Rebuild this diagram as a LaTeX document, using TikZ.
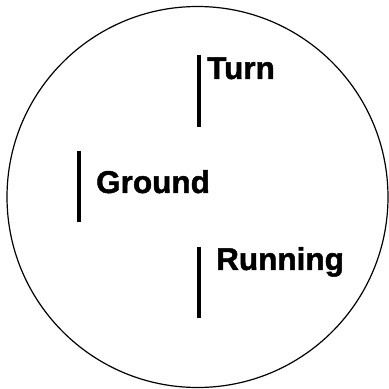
\documentclass[tikz,border=0pt]{standalone}
\usepackage{fontspec}
\setmainfont{Liberation Sans}
\newfontfamily\heavyfont[FakeBold=1.5]{Liberation Sans Bold}
\begin{document}
\begin{tikzpicture}[x=1pt,y=1pt,
  lbl/.style={anchor=base west,inner sep=0pt,font=\heavyfont\fontsize{31.5}{31.5}\selectfont},
  bar/.style={line width=4.5pt},
  ring/.style={line width=1.2pt}]
\useasboundingbox (0,0) rectangle (389,389);
\node[ring,draw,circle,minimum size=381pt,inner sep=0pt] (c) at (197.5,192) {};
\coordinate (t1) at (199,334); \coordinate (t2) at (199,262);
\coordinate (g1) at (79,238); \coordinate (g2) at (79,167);
\coordinate (r1) at (199,142); \coordinate (r2) at (199,71);
\draw[bar] (t1) -- (t2);
\draw[bar] (g1) -- (g2);
\draw[bar] (r1) -- (r2);
\node[lbl] (turn) at (207,310) {Turn};
\node[lbl] (ground) at (96,196) {Ground};
\node[lbl] (running) at (216,119) {Running};
\end{tikzpicture}
\end{document}
